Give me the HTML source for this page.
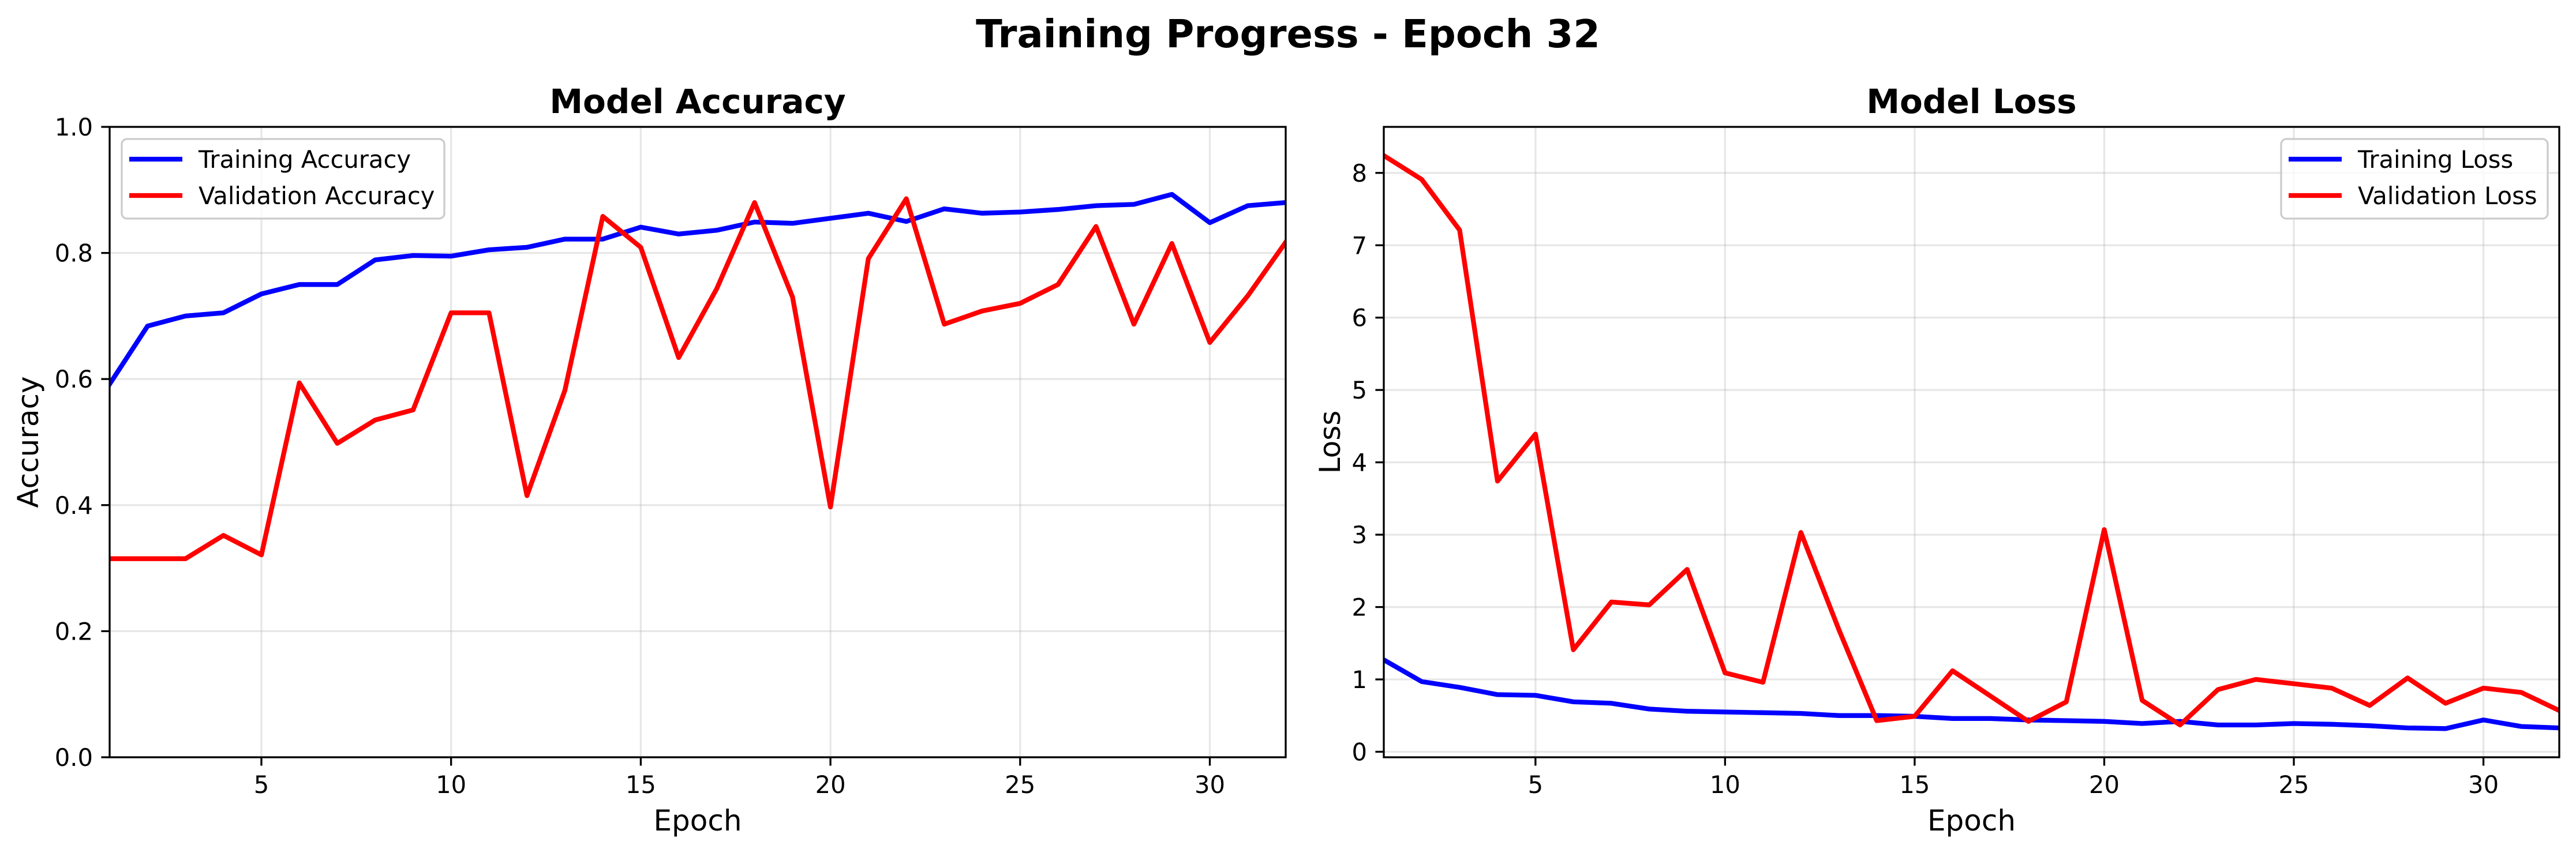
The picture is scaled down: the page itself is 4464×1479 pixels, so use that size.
<!DOCTYPE html>
<html><head><meta charset="utf-8"><style>
html,body{margin:0;padding:0;background:#fff;}
svg{display:block;font-family:"DejaVu Sans","Liberation Sans",sans-serif;}
</style></head><body>
<svg id="fig" width="4464" height="1479" viewBox="0 0 4464 1479" xmlns="http://www.w3.org/2000/svg">
<rect width="4464" height="1479" fill="#fff"/>
<text x="2232" y="82" font-size="67" font-weight="bold" text-anchor="middle">Training Progress - Epoch 32</text>
<g id="accPlot"></g>
<g id="lossPlot"></g>
</svg>
<script>
const epochs = [1,2,3,4,5,6,7,8,9,10,11,12,13,14,15,16,17,18,19,20,21,22,23,24,25,26,27,28,29,30,31,32];
const trainAcc = [0.592,0.684,0.70,0.705,0.735,0.75,0.75,0.789,0.796,0.795,0.805,0.809,0.822,0.822,0.841,0.83,0.836,0.849,0.847,0.855,0.863,0.85,0.87,0.863,0.865,0.869,0.875,0.877,0.893,0.848,0.875,0.88];
const valAcc = [0.315,0.315,0.315,0.352,0.321,0.594,0.498,0.535,0.551,0.705,0.705,0.415,0.582,0.858,0.809,0.634,0.743,0.88,0.73,0.397,0.791,0.886,0.687,0.708,0.72,0.75,0.842,0.687,0.815,0.658,0.732,0.817];
const trainLoss = [1.27,0.97,0.89,0.79,0.78,0.69,0.67,0.59,0.56,0.55,0.54,0.53,0.50,0.50,0.49,0.46,0.46,0.44,0.43,0.42,0.39,0.42,0.37,0.37,0.39,0.38,0.36,0.33,0.32,0.44,0.35,0.33];
const valLoss = [8.24,7.91,7.21,3.74,4.39,1.41,2.07,2.03,2.52,1.09,0.96,3.03,1.69,0.43,0.49,1.12,0.77,0.42,0.69,3.07,0.71,0.37,0.86,1.0,0.94,0.88,0.64,1.02,0.67,0.88,0.82,0.57];
const xTicks = [5,10,15,20,25,30];
const accTicks = [0.0,0.2,0.4,0.6,0.8,1.0];
const accTickLabels = ["0.0","0.2","0.4","0.6","0.8","1.0"];
const lossTicks = [0,1,2,3,4,5,6,7,8];
const lossTickLabels = ["0","1","2","3","4","5","6","7","8"];

const NS = "http://www.w3.org/2000/svg";
function mk(parent, tag, attrs){const e=document.createElementNS(NS,tag);for(const k in attrs)e.setAttribute(k,attrs[k]);parent.appendChild(e);return e;}

function drawPanel(g, cfg){
  const L=cfg.left,R=cfg.right,T=220,B=1313;
  const xs=v=>L+(v-1)/(31)*(R-L);
  const ys=v=>B-(v-cfg.ymin)/(cfg.ymax-cfg.ymin)*(B-T);
  // grid
  xTicks.forEach(t=>{
    const l=mk(g,'line',{x1:xs(t),x2:xs(t),y1:T,y2:B,stroke:'#b0b0b0','stroke-opacity':0.3,'stroke-width':3.3});
    
    
  });
  cfg.yticks.forEach(t=>{
    const l=mk(g,'line',{x1:L,x2:R,y1:ys(t),y2:ys(t),stroke:'#b0b0b0','stroke-opacity':0.3,'stroke-width':3.3});
    
    
  });
  // series
  const series=[[cfg.train,'#0000ff',cfg.trainName],[cfg.val,'#ff0000',cfg.valName]];
  series.forEach(s=>{
    const pts=epochs.map((e,i)=>xs(e).toFixed(1)+','+ys(s[0][i]).toFixed(1)).join(' ');
    const p=mk(g,'polyline',{points:pts,fill:'none',stroke:s[1],'stroke-width':8.3,'stroke-linejoin':'round','stroke-linecap':'square','clip-path':'url(#'+cfg.clip+')'});
    
    
  });
  // spines
  const fr=mk(g,'rect',{x:L,y:T,width:R-L,height:B-T,fill:'none',stroke:'#000','stroke-width':3.3});
  
  
  // x ticks
  xTicks.forEach(t=>{
    mk(g,'line',{x1:xs(t),x2:xs(t),y1:B,y2:B+14.6,stroke:'#000','stroke-width':3.3});
    const tx=mk(g,'text',{x:xs(t),y:B+62,'font-size':41.7,'text-anchor':'middle'});
    tx.textContent=String(t);
    
    
  });
  cfg.yticks.forEach((t,i)=>{
    mk(g,'line',{x1:L-14.6,x2:L,y1:ys(t),y2:ys(t),stroke:'#000','stroke-width':3.3});
    const tx=mk(g,'text',{x:L-29,y:ys(t)+15,'font-size':41.7,'text-anchor':'end'});
    tx.textContent=cfg.ylabels[i];
    
    
  });
  const ti=mk(g,'text',{x:(L+R)/2,y:196,'font-size':58,'font-weight':'bold','text-anchor':'middle'});
  ti.textContent=cfg.title;
  
  
  const xl=mk(g,'text',{x:(L+R)/2,y:1440,'font-size':50,'text-anchor':'middle'});
  xl.textContent='Epoch';
  
  
  const yl=mk(g,'text',{x:0,y:0,'font-size':50,'text-anchor':'middle',transform:'translate('+cfg.ylabelX+','+((T+B)/2)+') rotate(-90)'});
  yl.textContent=cfg.ylabel;
  
  
  // legend
  const lg=mk(g,'g',{});
  
  
  const lx=cfg.legX;
  mk(lg,'rect',{x:lx,y:241,width:cfg.legW,height:138,rx:9,fill:'#fff','fill-opacity':0.8,stroke:'#cccccc','stroke-width':3.3});
  [[cfg.trainName==='training-accuracy-line'?'Training Accuracy':'Training Loss','#0000ff',276],[cfg.valName==='validation-accuracy-line'?'Validation Accuracy':'Validation Loss','#ff0000',339]].forEach(r=>{
    const e=mk(lg,'g',{});
    
    
    mk(e,'line',{x1:lx+13,x2:lx+105,y1:r[2],y2:r[2],stroke:r[1],'stroke-width':8.3});
    const t=mk(e,'text',{x:lx+133,y:r[2]+15,'font-size':41.7});
    t.textContent=r[0];
  });
}
const svg=document.getElementById('fig');
const defs=mk(svg,'defs',{});
const c1=mk(defs,'clipPath',{id:'clipA'});mk(c1,'rect',{x:190,y:220,width:2038,height:1093});
const c2=mk(defs,'clipPath',{id:'clipB'});mk(c2,'rect',{x:2398,y:220,width:2037,height:1093});
drawPanel(document.getElementById('accPlot'),{left:190,right:2228,ymin:0,ymax:1,yticks:accTicks,ylabels:accTickLabels,train:trainAcc,val:valAcc,trainName:'training-accuracy-line',valName:'validation-accuracy-line',title:'Model Accuracy',ylabel:'Accuracy',ylabelX:66,clip:'clipA',legX:211,legW:559});
drawPanel(document.getElementById('lossPlot'),{left:2398,right:4435,ymin:-0.076,ymax:8.636,yticks:lossTicks,ylabels:lossTickLabels,train:trainLoss,val:valLoss,trainName:'training-loss-line',valName:'validation-loss-line',title:'Model Loss',ylabel:'Loss',ylabelX:2322,clip:'clipB',legX:3953,legW:462});
</script>
</body></html>
